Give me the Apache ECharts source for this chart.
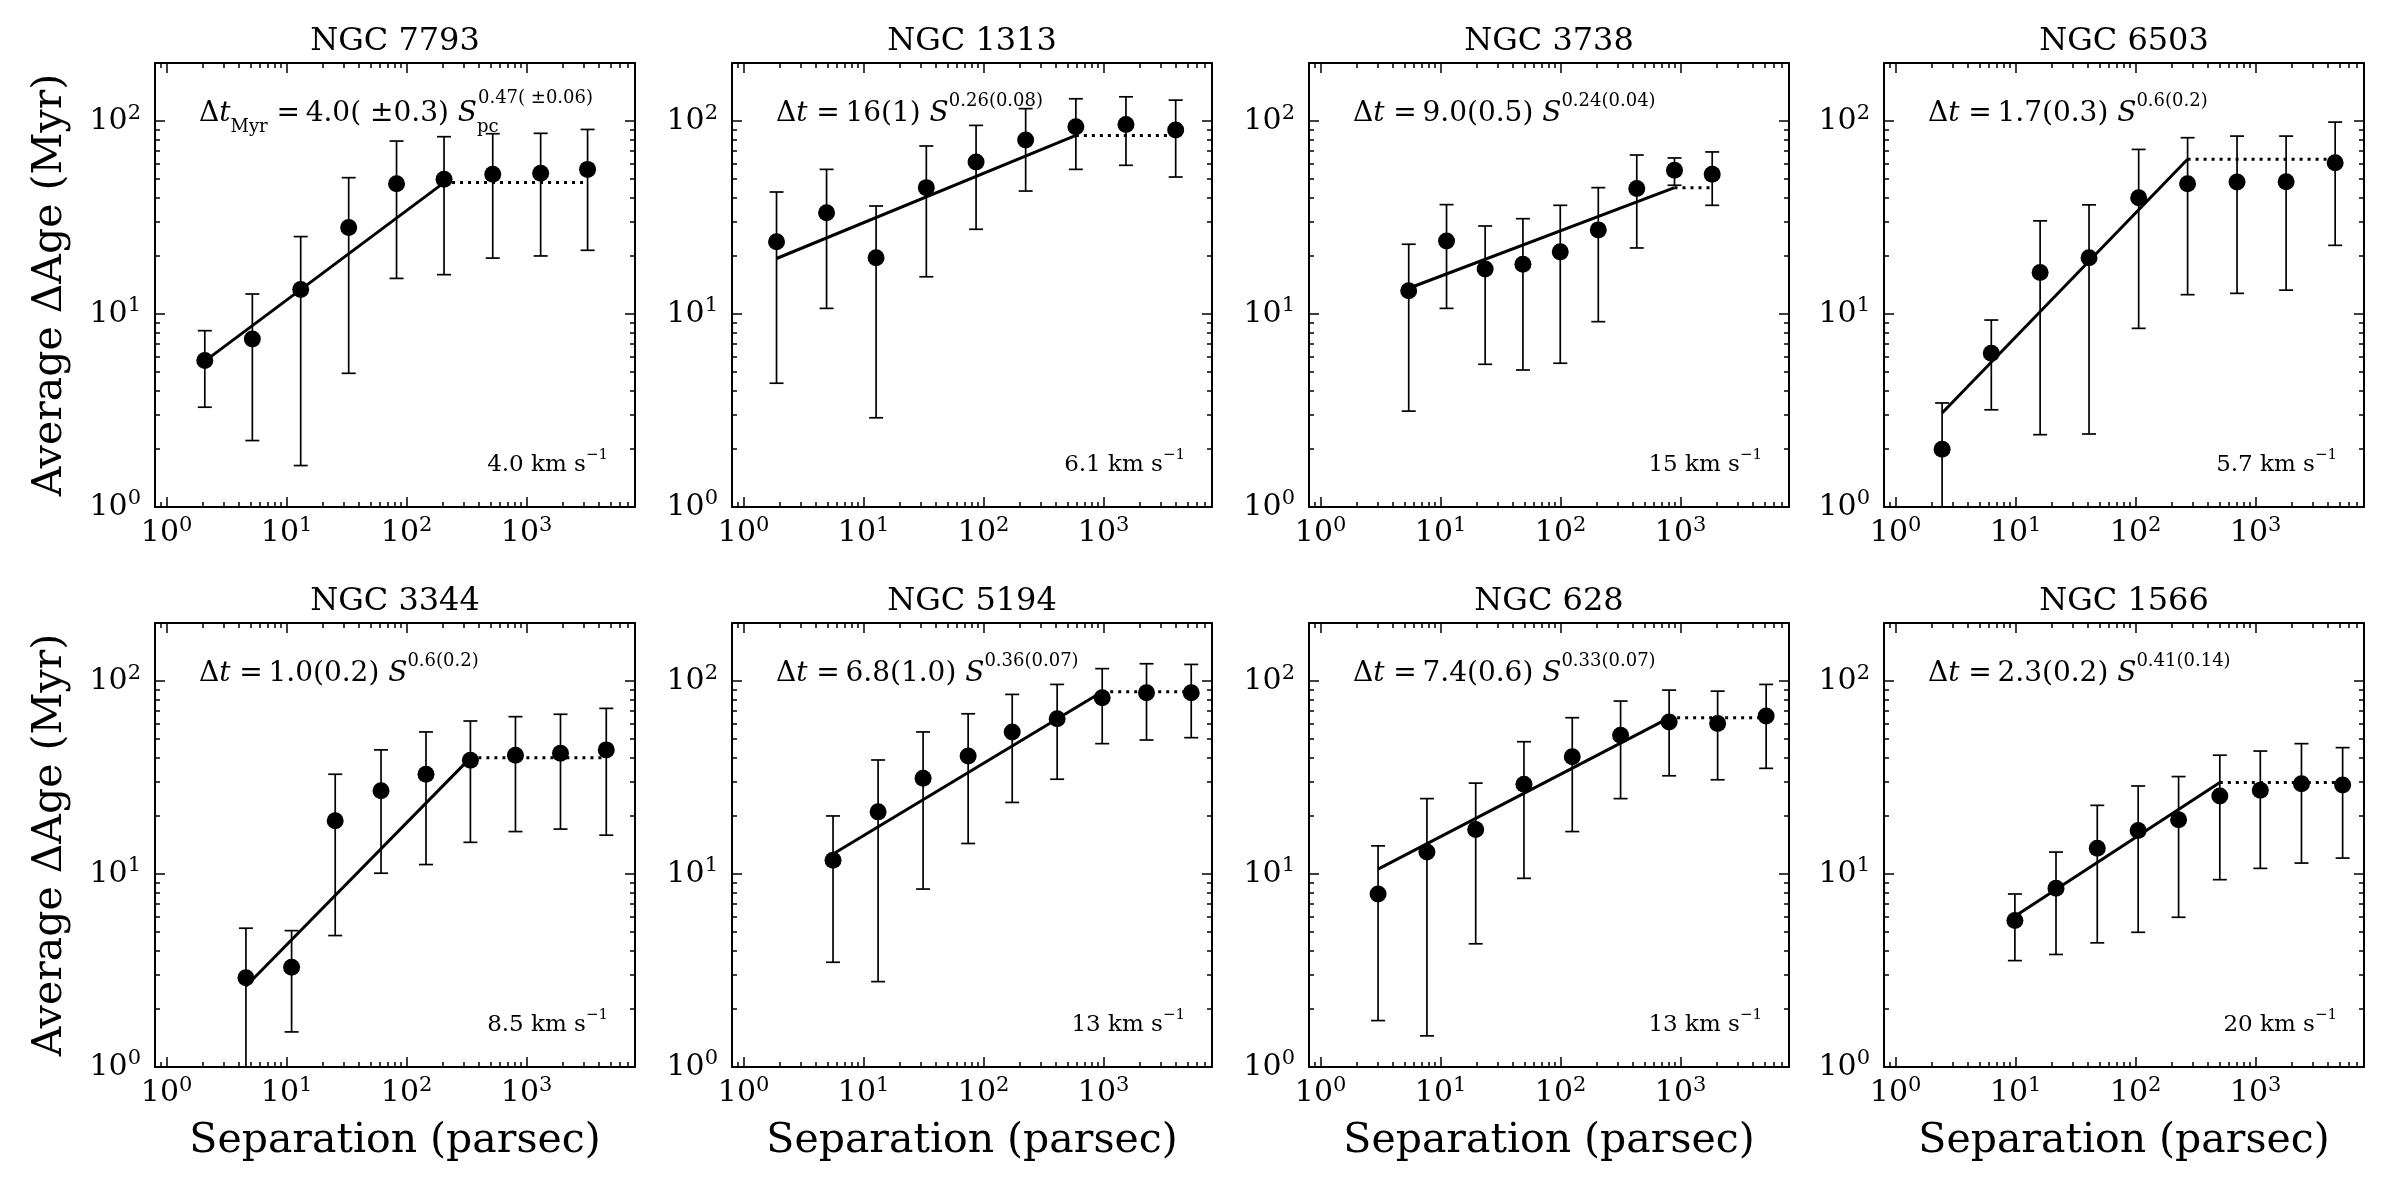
<!DOCTYPE html>
<html>
<head>
<meta charset="utf-8">
<title>Average age difference vs separation</title>
<script src="https://cdn.jsdelivr.net/npm/echarts@6/dist/echarts.min.js"></script>
<style>
  html, body { margin: 0; padding: 0; background: #ffffff; }
  #main { width: 2400px; height: 1200px; }
</style>
</head>
<body>
<div id="main"></div>
<script>
// values
const galaxies = ['NGC 7793', 'NGC 1313', 'NGC 3738', 'NGC 6503', 'NGC 3344', 'NGC 5194', 'NGC 628', 'NGC 1566'];
const velocities = ['4.0', '6.1', '15', '5.7', '8.5', '13', '13', '20'];
const fitCoef = ['4.0( \u00b10.3)', '16(1)', '9.0(0.5)', '1.7(0.3)', '1.0(0.2)', '6.8(1.0)', '7.4(0.6)', '2.3(0.2)'];
const fitSlope = ['0.47( \u00b10.06)', '0.26(0.08)', '0.24(0.04)', '0.6(0.2)', '0.6(0.2)', '0.36(0.07)', '0.33(0.07)', '0.41(0.14)'];

const separation = [
  [2.08, 5.18, 13.1, 32.9, 82.4, 205, 522, 1309, 3220],
  [1.88, 4.91, 12.7, 33.3, 86.5, 224, 587, 1535, 3985],
  [5.42, 11.2, 23.5, 48.5, 99.3, 206, 431, 889, 1833],
  [2.44, 6.27, 16.0, 40.9, 106, 271, 700, 1795, 4600],
  [4.58, 11.0, 25.4, 61.2, 145, 340, 807, 1915, 4610],
  [5.56, 13.2, 31.3, 74.3, 173, 410, 973, 2277, 5370],
  [3.01, 7.69, 19.6, 49.5, 125, 316, 802, 2034, 5160],
  [9.86, 21.7, 47.9, 105, 228, 503, 1094, 2410, 5310]
];
const meanAge = [
  [5.74, 7.43, 13.4, 28.1, 47.4, 49.9, 53.0, 53.6, 56.2],
  [23.7, 33.5, 19.6, 45.2, 61.4, 79.8, 93.5, 96.1, 89.8],
  [13.2, 23.9, 17.1, 18.1, 21.0, 27.3, 44.7, 55.6, 53.0],
  [1.99, 6.26, 16.4, 19.6, 40.1, 47.4, 48.3, 48.5, 60.9],
  [2.90, 3.29, 18.9, 27.0, 32.9, 38.9, 41.3, 42.3, 44.0],
  [11.8, 21.0, 31.4, 40.9, 54.5, 63.8, 82.0, 87.1, 87.1],
  [7.88, 13.0, 17.0, 29.2, 40.5, 52.4, 61.4, 60.2, 65.9],
  [5.74, 8.43, 13.6, 16.8, 19.1, 25.4, 27.2, 29.4, 28.9]
];
const ageHigh = [
  [8.2, 12.7, 25.2, 50.9, 78.8, 83, 86, 86.4, 90.5],
  [42.9, 56.2, 36.3, 74.3, 95, 116, 130.5, 133.6, 128.4],
  [23.0, 36.9, 28.6, 31.2, 36.6, 45.2, 66.7, 64.4, 69.2],
  [3.46, 9.31, 30.4, 36.8, 71.3, 82, 83.6, 83.6, 98.8],
  [5.24, 5.09, 32.9, 44.0, 54.5, 62.1, 65.4, 67.3, 72.2],
  [20.0, 39.0, 54.5, 67.7, 85.3, 96.1, 116, 123, 122],
  [14.0, 24.6, 29.6, 48.5, 64.6, 78.8, 89.8, 88.7, 96.1],
  [7.88, 13.0, 22.7, 28.6, 32.0, 41.3, 43.4, 47.4, 45.2]
];
const ageLow = [
  [3.29, 2.21, 1.64, 4.93, 15.3, 16.0, 19.5, 20.0, 21.4],
  [4.38, 10.7, 2.90, 15.6, 27.5, 43.4, 56.2, 59.0, 51.3],
  [3.14, 10.7, 5.49, 5.13, 5.56, 9.13, 22.0, 46.5, 36.6],
  [0.5, 3.19, 2.37, 2.39, 8.43, 12.6, 12.8, 13.3, 22.7],
  [0.5, 1.52, 4.80, 10.1, 11.2, 14.6, 16.6, 17.1, 15.9],
  [3.49, 2.77, 8.36, 14.4, 23.5, 31.0, 47.4, 49.5, 50.9],
  [1.74, 1.45, 4.35, 9.5, 16.6, 24.6, 32.3, 30.8, 35.3],
  [3.56, 3.83, 4.40, 4.99, 5.97, 9.35, 10.7, 11.4, 12.1]
];
// power-law fit: start point, break point, end of flat (dotted) part
const fitStart = [[2.08, 5.7], [1.88, 19.4], [5.42, 13.6], [2.44, 3.07], [4.58, 2.62], [5.56, 12.7], [3.01, 10.6], [9.86, 6.04]];
const fitBreak = [[205, 48], [587, 84.3], [889, 45.2], [271, 63.4], [340, 40], [973, 88.1], [802, 64.5], [503, 29.8]];
const plateauEnd = [3220, 3985, 1833, 4600, 4610, 5370, 5160, 5310];

const xRange = [0.8, 8000];
const yRange = [1, 200];

const FONT = 'DejaVu Serif';
const gridLeft = [155, 732, 1309, 1884];
const gridTop = [63, 623];
const gridW = 480;
const gridH = 444;
const CAP = 7;

const MAIN = 28, SUP = 18;

const measureCtx = document.createElement('canvas').getContext('2d');
function textWidth(str, size, italic) {
  measureCtx.font = (italic ? 'italic ' : '') + size + 'px "' + FONT + '"';
  return measureCtx.measureText(str).width;
}

function powerLabel(v) {
  const lg = Math.log10(v);
  const e = Math.round(lg);
  if (Math.abs(lg - e) > 1e-6) return '';
  return '{b|10}{s|' + e + '}';
}

const tickRich = {
  b: { fontFamily: FONT, fontSize: 30, lineHeight: 37, color: '#000' },
  s: { fontFamily: FONT, fontSize: 21, lineHeight: 21, verticalAlign: 'top', color: '#000' }
};

function axisCommon(showLabel, margin) {
  return {
    axisLine: { show: true, onZero: false, lineStyle: { color: '#000', width: 2 } },
    axisTick: { show: true, inside: true, length: 10, lineStyle: { color: '#000', width: 1.5 } },
    minorTick: { show: true, splitNumber: 9, length: 5, lineStyle: { color: '#000', width: 1.5 } },
    splitLine: { show: false },
    minorSplitLine: { show: false },
    axisLabel: showLabel
      ? { show: true, margin: margin, formatter: powerLabel, rich: tickRich, showMinLabel: true, showMaxLabel: true }
      : { show: false }
  };
}

function renderErrorBar(params, api) {
  const x = api.value(0);
  const top = api.coord([x, api.value(2)]);
  const bot = api.coord([x, api.value(1)]);
  const floor = params.coordSys.y + params.coordSys.height;
  const clipped = bot[1] > floor;
  const y2 = clipped ? floor : bot[1];
  const st = () => ({ stroke: '#000', lineWidth: 1.7 });
  const children = [
    { type: 'line', shape: { x1: top[0], y1: top[1], x2: top[0], y2: y2 }, style: st() },
    { type: 'line', shape: { x1: top[0] - CAP, y1: top[1], x2: top[0] + CAP, y2: top[1] }, style: st() }
  ];
  if (!clipped) {
    children.push({ type: 'line', shape: { x1: bot[0] - CAP, y1: bot[1], x2: bot[0] + CAP, y2: bot[1] }, style: st() });
  }
  return { type: 'group', children: children };
}

const grids = [], xAxes = [], yAxes = [], series = [], titles = [], graphics = [];

const formulaRich = {
  m: { fontFamily: FONT, fontSize: MAIN, lineHeight: 44, color: '#000' },
  i: { fontFamily: FONT, fontSize: MAIN, lineHeight: 44, fontStyle: 'italic', color: '#000' },
  sup: { fontFamily: FONT, fontSize: SUP, lineHeight: 18, verticalAlign: 'top', color: '#000' },
  sub: { fontFamily: FONT, fontSize: SUP, lineHeight: 22, verticalAlign: 'bottom', color: '#000' }
};
const velRich = {
  m: { fontFamily: FONT, fontSize: 23, lineHeight: 34, color: '#000' },
  sup: { fontFamily: FONT, fontSize: 15, lineHeight: 15, verticalAlign: 'top', color: '#000' }
};

galaxies.forEach(function (name, i) {
  const col = i % 4, row = Math.floor(i / 4);
  const left = gridLeft[col], top = gridTop[row];
  grids.push({ left: left, top: top, width: gridW, height: gridH, containLabel: false });

  const xb = Object.assign({ type: 'log', logBase: 10, min: xRange[0], max: xRange[1], gridIndex: i, position: 'bottom' }, axisCommon(true, 8));
  if (row === 1) {
    Object.assign(xb, {
      name: 'Separation (parsec)', nameLocation: 'middle', nameGap: 54,
      nameTextStyle: { fontFamily: FONT, fontSize: 41, color: '#000' }
    });
  }
  xAxes.push(xb);
  xAxes.push(Object.assign({ type: 'log', logBase: 10, min: xRange[0], max: xRange[1], gridIndex: i, position: 'top' }, axisCommon(false)));

  const yl = Object.assign({ type: 'log', logBase: 10, min: yRange[0], max: yRange[1], gridIndex: i, position: 'left' }, axisCommon(true, 14));
  if (col === 0) {
    Object.assign(yl, {
      name: 'Average \u0394Age (Myr)', nameLocation: 'middle', nameGap: 84,
      nameTextStyle: { fontFamily: FONT, fontSize: 41, color: '#000' }
    });
  }
  yAxes.push(yl);
  yAxes.push(Object.assign({ type: 'log', logBase: 10, min: yRange[0], max: yRange[1], gridIndex: i, position: 'right' }, axisCommon(false)));

  const xi = 2 * i, yi = 2 * i;
  series.push({
    type: 'custom', xAxisIndex: xi, yAxisIndex: yi, z: 2,
    renderItem: renderErrorBar,
    encode: { x: 0, y: [1, 2] },
    data: separation[i].map((s, k) => [s, ageLow[i][k], ageHigh[i][k]])
  });
  series.push({
    type: 'line', xAxisIndex: xi, yAxisIndex: yi, z: 3, symbol: 'none',
    lineStyle: { color: '#000', width: 3 },
    data: [fitStart[i], fitBreak[i]]
  });
  series.push({
    type: 'line', xAxisIndex: xi, yAxisIndex: yi, z: 3, symbol: 'none',
    lineStyle: { color: '#000', width: 3, type: [3, 5] },
    data: [fitBreak[i], [plateauEnd[i], fitBreak[i][1]]]
  });
  series.push({
    type: 'scatter', xAxisIndex: xi, yAxisIndex: yi, z: 4,
    symbol: 'circle', symbolSize: 17, itemStyle: { color: '#000', opacity: 1 },
    data: separation[i].map((s, k) => [s, meanAge[i][k]])
  });

  titles.push({
    text: name, left: left + gridW / 2, top: top - 37, textAlign: 'center', padding: 0,
    textStyle: { fontFamily: FONT, fontSize: 32, fontWeight: 'normal', color: '#000' }
  });

  const fx = left + 44, fy = top + 51;
  const mid = ' =\u2009' + fitCoef[i] + ' ';
  let formula;
  if (i === 0) {
    formula = '{m|\u0394}{i|t}{sub|Myr}{m|' + mid + '}{i|S}{sub|pc}';
    const wS = textWidth('\u0394', MAIN) + textWidth('t', MAIN, true) + textWidth('Myr', SUP) +
      textWidth(mid, MAIN) + textWidth('S', MAIN, true);
    graphics.push({
      type: 'text', x: fx + wS + 1, y: fy - 16, z: 10,
      style: { text: fitSlope[i], fontFamily: FONT, fontSize: SUP, fill: '#000', verticalAlign: 'middle' }
    });
  } else {
    formula = '{m|\u0394}{i|t}{m|' + mid + '}{i|S}{sup|' + fitSlope[i] + '}';
  }
  graphics.push({
    type: 'text', x: fx, y: fy, z: 10,
    style: { text: formula, rich: formulaRich, verticalAlign: 'middle' }
  });
  graphics.push({
    type: 'text', x: left + gridW - 27, y: top + gridH - 42, z: 10,
    style: { text: '{m|' + velocities[i] + ' km s}{sup|\u22121}', rich: velRich, align: 'right', verticalAlign: 'middle' }
  });
});

const chart = echarts.init(document.getElementById('main'));
chart.setOption({
  animation: false,
  backgroundColor: '#ffffff',
  title: titles,
  grid: grids,
  xAxis: xAxes,
  yAxis: yAxes,
  series: series,
  graphic: graphics
});
</script>
</body>
</html>
